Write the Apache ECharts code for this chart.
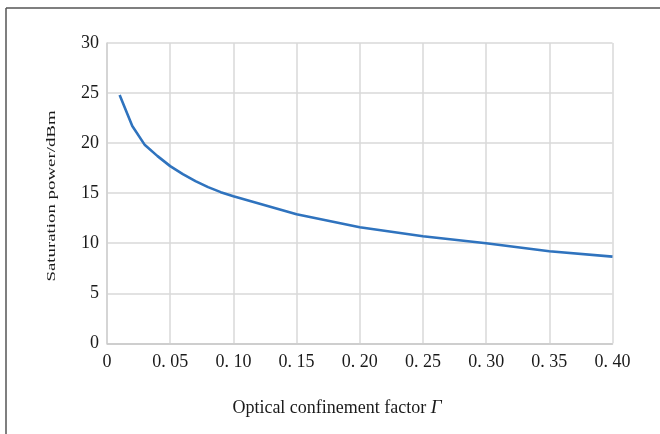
<!DOCTYPE html>
<html>
<head>
<meta charset="utf-8">
<script src="https://cdn.jsdelivr.net/npm/echarts@6/dist/echarts.min.js"></script>
<style>
html,body{margin:0;padding:0;background:#fff;}
#chart{width:660px;height:434px;}
</style>
</head>
<body>
<div id="chart"></div>
<script>
const xValues = [0.01, 0.02, 0.03, 0.04, 0.05, 0.06, 0.07, 0.08, 0.09, 0.10, 0.15, 0.20, 0.25, 0.30, 0.35, 0.40];
const yValues = [24.8, 21.7, 19.8, 18.7, 17.7, 16.9, 16.2, 15.6, 15.1, 14.7, 12.9, 11.6, 10.7, 10.0, 9.2, 8.66];
const xTickLabels = ['0', '0. 05', '0. 10', '0. 15', '0. 20', '0. 25', '0. 30', '0. 35', '0. 40'];
const yTickLabels = ['0', '5', '10', '15', '20', '25', '30'];
const xTitle = 'Optical confinement factor ';
const xTitleSymbol = 'Γ';
const yTitle = 'Saturation power/dBm';

const FONT = '"Liberation Serif", "DejaVu Serif", serif';
const chart = echarts.init(document.getElementById('chart'), null, {renderer: 'canvas'});
chart.setOption({
  backgroundColor: '#fff',
  animation: false,
  grid: {left: 107, right: 47.5, top: 43, bottom: 90.7, containLabel: false},
  xAxis: {
    type: 'value', min: 0, max: 0.4, interval: 0.05,
    axisLine: {show: true, lineStyle: {color: '#c8c8c8', width: 1.5}},
    axisTick: {show: false},
    splitLine: {show: true, lineStyle: {color: '#d9d9d9', width: 1.5}},
    axisLabel: {
      margin: 10, color: '#1a1a1a', fontFamily: FONT, fontSize: 18,
      formatter: v => xTickLabels[Math.round(v / 0.05)]
    }
  },
  yAxis: {
    type: 'value', min: 0, max: 30, interval: 5,
    axisLine: {show: true, lineStyle: {color: '#d0d0d0', width: 1.5}},
    axisTick: {show: false},
    splitLine: {show: true, lineStyle: {color: '#d9d9d9', width: 1.5}},
    axisLabel: {
      margin: 8, color: '#1a1a1a', fontFamily: FONT, fontSize: 18,
      padding: [3, 0, 0, 0],
      formatter: v => yTickLabels[Math.round(v / 5)]
    }
  },
  series: [{
    type: 'line',
    data: xValues.map((x, i) => [x, yValues[i]]),
    showSymbol: false,
    smooth: false,
    lineStyle: {color: '#2f73be', width: 2.6},
    itemStyle: {color: '#2f73be'}
  }],
  graphic: [
    {type: 'line', shape: {x1: 6, y1: 8, x2: 6, y2: 434}, style: {stroke: '#555', lineWidth: 1.5}},
    {type: 'line', shape: {x1: 6, y1: 8, x2: 660, y2: 8}, style: {stroke: '#555', lineWidth: 1.5}},
    {
      type: 'text', x: 337, y: 408,
      style: {
        text: '{a|' + xTitle + '}{b|' + xTitleSymbol + '}',
        align: 'center', verticalAlign: 'middle',
        rich: {
          a: {fontFamily: FONT, fontSize: 18, fill: '#1a1a1a'},
          b: {fontFamily: FONT, fontSize: 19, fontStyle: 'italic', fill: '#1a1a1a'}
        }
      }
    },
    {
      type: 'text', x: 52, y: 196, rotation: Math.PI / 2, scaleX: 1.45,
      style: {
        text: yTitle, align: 'center', verticalAlign: 'middle',
        fontFamily: FONT, fontSize: 13, fill: '#1a1a1a'
      }
    }
  ]
});
</script>
</body>
</html>
